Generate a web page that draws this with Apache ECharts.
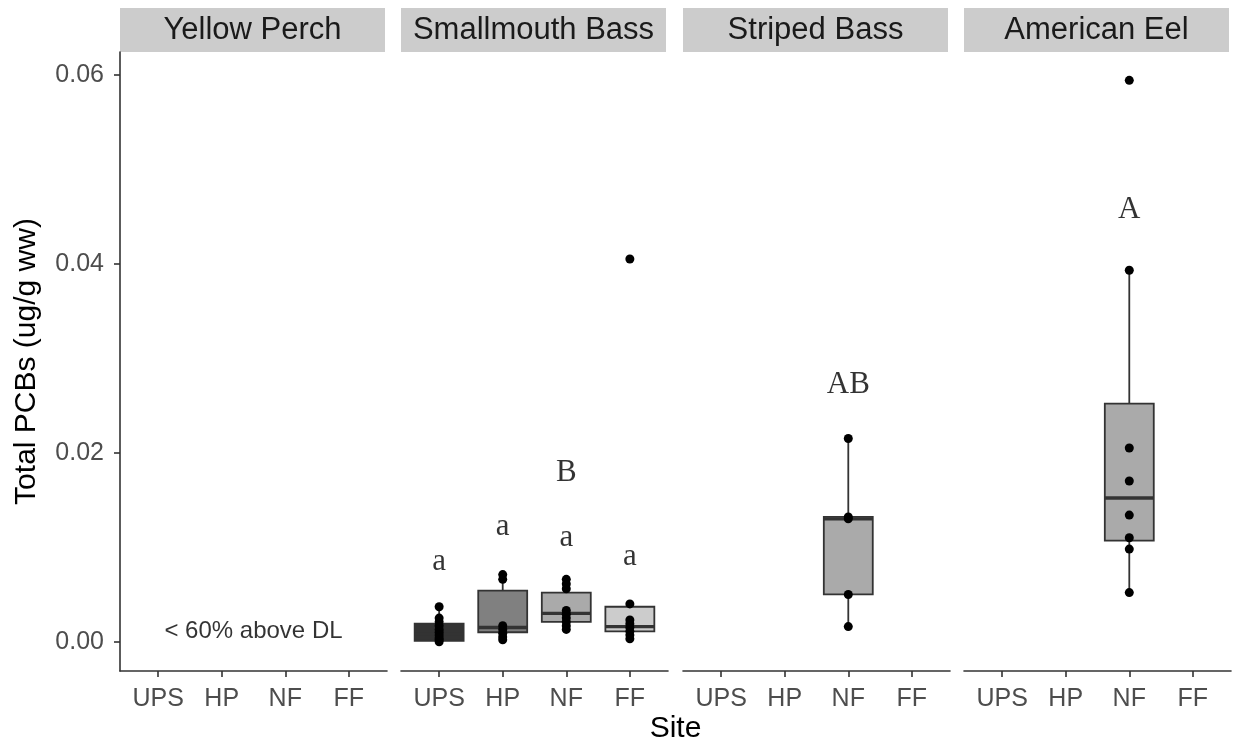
<!DOCTYPE html>
<html>
<head>
<meta charset="utf-8">
<title>Total PCBs by site and species</title>
<script src="https://cdn.jsdelivr.net/npm/echarts@6/dist/echarts.min.js"></script>
<style>
  html, body { margin: 0; padding: 0; background: #ffffff; }
  #chart { width: 1233px; height: 744px; }
</style>
</head>
<body>
<div id="chart"></div>
<script>
// ---- data ----
const species = ['Yellow Perch', 'Smallmouth Bass', 'Striped Bass', 'American Eel'];
const sites = ['UPS', 'HP', 'NF', 'FF'];
const yTicks = [0, 0.02, 0.04, 0.06];

// box summaries: [site index, lower whisker, Q1, median, Q3, upper whisker]
const smallmouthBoxes = [
  [0, 0.0000, 0.0001, 0.0008, 0.0019, 0.0037],
  [1, 0.0002, 0.0010, 0.0015, 0.0054, 0.0071],
  [2, 0.0013, 0.0021, 0.0030, 0.0052, 0.0066],
  [3, 0.0003, 0.0011, 0.0016, 0.0037, 0.0040]
];
const stripedBoxes = [[2, 0.0016, 0.0050, 0.0130, 0.0132, 0.0215]];
const eelBoxes = [[2, 0.0052, 0.0107, 0.0152, 0.0252, 0.0393]];

// individual fish (ug/g ww)
const smallmouthUPS = [0.0037, 0.0025, 0.0021, 0.0017, 0.0013, 0.0010, 0.0007, 0.0004, 0.0002, 0.0000];
const smallmouthHP = [0.0071, 0.0066, 0.0017, 0.0013, 0.0009, 0.0005, 0.0002];
const smallmouthNF = [0.0066, 0.0061, 0.0056, 0.0033, 0.0029, 0.0025, 0.0021, 0.0017, 0.0013];
const smallmouthFF = [0.0405, 0.0040, 0.0023, 0.0019, 0.0015, 0.0011, 0.0007, 0.0003];
const stripedNF = [0.0215, 0.0132, 0.0130, 0.0050, 0.0016];
const eelNF = [0.0594, 0.0393, 0.0205, 0.0170, 0.0134, 0.0110, 0.0098, 0.0052];

// significance letters: [panel, site index, y, text]
const letters = [
  [1, 0, 0.0085, 'a'],
  [1, 1, 0.0122, 'a'],
  [1, 2, 0.0110, 'a'],
  [1, 3, 0.0090, 'a'],
  [1, 2, 0.0179, 'B'],
  [2, 2, 0.0272, 'AB'],
  [3, 2, 0.0457, 'A']
];
const perchNote = '< 60% above DL';

// ---- layout / style ----
const siteFill = ['#333333', '#808080', '#aaaaaa', '#cccccc'];
const panelLeft = [120, 401, 683, 964];
const panelWidth = 267;
const panelTop = 52;
const panelBottom = 671;
const stripTop = 8;
const yMin = -0.0031, yMax = 0.0624;
const BOX_HALF = 0.385;
const sansFont = '"Liberation Sans", Arial, sans-serif';
const serifFont = '"Liberation Serif", "Times New Roman", serif';
const inkGrey = '#333333';

function toPoints(site, values) {
  return values.map(v => [site, v]);
}
const pointsByPanel = [
  [],
  [].concat(toPoints(0, smallmouthUPS), toPoints(1, smallmouthHP), toPoints(2, smallmouthNF), toPoints(3, smallmouthFF)),
  toPoints(2, stripedNF),
  toPoints(2, eelNF)
];
const boxesByPanel = [[], smallmouthBoxes, stripedBoxes, eelBoxes];

// box-and-whisker glyph without whisker caps
function renderBox(params, api) {
  const x = api.value(0);
  const lo = api.value(1), q1 = api.value(2), med = api.value(3), q3 = api.value(4), hi = api.value(5);
  const pTopL = api.coord([x - BOX_HALF, q3]);
  const pBotR = api.coord([x + BOX_HALF, q1]);
  const pMedL = api.coord([x - BOX_HALF, med]);
  const pMedR = api.coord([x + BOX_HALF, med]);
  const pHi = api.coord([x, hi]);
  const pLo = api.coord([x, lo]);
  const pQ3 = api.coord([x, q3]);
  const pQ1 = api.coord([x, q1]);
  return {
    type: 'group',
    children: [
      { type: 'line', shape: { x1: pHi[0], y1: pHi[1], x2: pQ3[0], y2: pQ3[1] }, style: { stroke: inkGrey, lineWidth: 1.8 } },
      { type: 'line', shape: { x1: pLo[0], y1: pLo[1], x2: pQ1[0], y2: pQ1[1] }, style: { stroke: inkGrey, lineWidth: 1.8 } },
      { type: 'rect', shape: { x: pTopL[0], y: pTopL[1], width: pBotR[0] - pTopL[0], height: pBotR[1] - pTopL[1] },
        style: { fill: siteFill[x], stroke: inkGrey, lineWidth: 1.8 } },
      { type: 'line', shape: { x1: pMedL[0], y1: pMedL[1], x2: pMedR[0], y2: pMedR[1] }, style: { stroke: inkGrey, lineWidth: 3.4 } }
    ]
  };
}

const grids = [], xAxes = [], yAxes = [], series = [], graphics = [];
species.forEach((name, i) => {
  grids.push({ left: panelLeft[i], width: panelWidth, top: panelTop, height: panelBottom - panelTop });
  xAxes.push({
    type: 'value', gridIndex: i, min: -0.6, max: 3.6,
    axisLine: { show: true, onZero: false, lineStyle: { color: inkGrey, width: 1.6 } },
    axisTick: { show: true, length: 6, customValues: [0, 1, 2, 3], lineStyle: { color: inkGrey, width: 1.6 } },
    axisLabel: { customValues: [0, 1, 2, 3], formatter: v => sites[Math.round(v)], color: '#4d4d4d',
      fontFamily: sansFont, fontSize: 25, margin: 16 },
    splitLine: { show: false }
  });
  yAxes.push({
    type: 'value', gridIndex: i, min: yMin, max: yMax,
    axisLine: { show: i === 0, onZero: false, lineStyle: { color: inkGrey, width: 1.6 } },
    axisTick: { show: i === 0, length: 6, customValues: yTicks, lineStyle: { color: inkGrey, width: 1.6 } },
    axisLabel: { show: i === 0, customValues: yTicks, formatter: v => v.toFixed(2), color: '#4d4d4d',
      fontFamily: sansFont, fontSize: 25, margin: 16 },
    splitLine: { show: false }
  });
  if (boxesByPanel[i].length) {
    series.push({
      type: 'custom', xAxisIndex: i, yAxisIndex: i, renderItem: renderBox,
      data: boxesByPanel[i], encode: { x: 0, y: [1, 2, 3, 4, 5] }, z: 2, silent: true
    });
  }
  if (pointsByPanel[i].length) {
    series.push({
      type: 'scatter', xAxisIndex: i, yAxisIndex: i, data: pointsByPanel[i],
      symbol: 'circle', symbolSize: 9, itemStyle: { color: '#000000', opacity: 1 }, z: 3, silent: true
    });
  }
  const panelLetters = letters.filter(l => l[0] === i);
  if (panelLetters.length) {
    series.push({
      type: 'scatter', xAxisIndex: i, yAxisIndex: i, symbolSize: 0, z: 4, silent: true,
      data: panelLetters.map(l => ({ value: [l[1], l[2]], name: l[3] })),
      label: { show: true, position: 'inside', formatter: p => p.name, color: '#000000',
        fontFamily: serifFont, fontSize: 31 }
    });
  }
  // facet strip
  graphics.push({
    type: 'rect', left: panelLeft[i], top: stripTop,
    shape: { width: panelWidth - 2, height: panelTop - stripTop }, style: { fill: '#cccccc' }
  });
  graphics.push({
    type: 'text', x: panelLeft[i] + (panelWidth - 2) / 2, y: (stripTop + panelTop) / 2,
    style: { text: name, fill: '#1a1a1a', font: '31px ' + sansFont, textAlign: 'center', textVerticalAlign: 'middle' }
  });
});

// note on the perch panel
series.push({
  type: 'scatter', xAxisIndex: 0, yAxisIndex: 0, symbolSize: 0, silent: true,
  data: [{ value: [1.5, 0.0011], name: perchNote }],
  label: { show: true, position: 'inside', formatter: p => p.name, color: '#000000', fontFamily: sansFont, fontSize: 24 }
});

graphics.push({
  type: 'text', x: (panelLeft[0] + panelLeft[3] + panelWidth) / 2, y: 729,
  style: { text: 'Site', fill: '#000000', font: '30px ' + sansFont, textAlign: 'center', textVerticalAlign: 'middle' }
});
graphics.push({
  type: 'text', x: 27, y: (panelTop + panelBottom) / 2, rotation: Math.PI / 2,
  style: { text: 'Total PCBs (ug/g ww)', fill: '#000000', font: '30px ' + sansFont, textAlign: 'center', textVerticalAlign: 'middle' }
});

const chart = echarts.init(document.getElementById('chart'), null, { renderer: 'canvas' });
chart.setOption({
  animation: false,
  backgroundColor: '#ffffff',
  grid: grids,
  xAxis: xAxes,
  yAxis: yAxes,
  series: series,
  graphic: graphics
});
</script>
</body>
</html>
